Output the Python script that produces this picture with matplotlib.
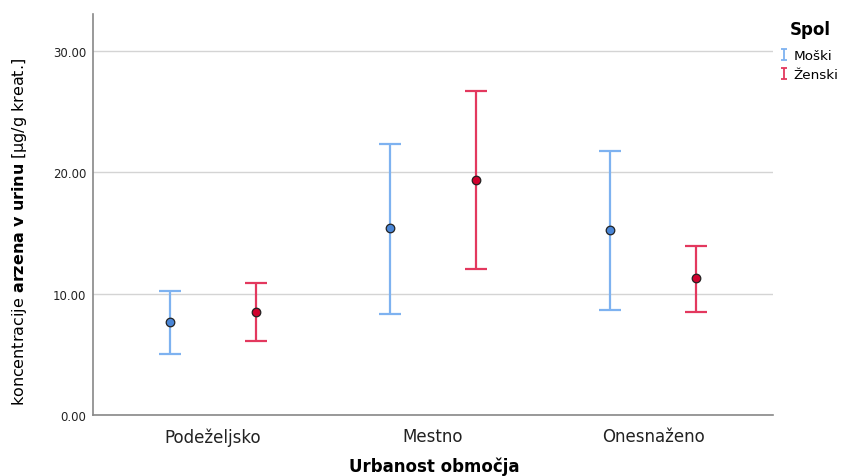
import matplotlib
matplotlib.use("Agg")
import matplotlib.pyplot as plt
from matplotlib.legend_handler import HandlerErrorbar
from matplotlib.container import ErrorbarContainer
import numpy as np

categories = ["Podeželjsko", "Mestno", "Onesnaženo"]
groups = ["Moški", "Ženski"]
male_mean = [7.67, 15.42, 15.25]
male_low = [5.03, 8.33, 8.66]
male_high = [10.2, 22.34, 21.76]
female_mean = [8.49, 19.37, 11.29]
female_low = [6.1, 12.04, 8.49]
female_high = [10.88, 26.7, 13.93]
yticks = [0, 10, 20, 30]

plt.rcParams['font.family'] = ['DejaVu Sans']
plt.rcParams['mathtext.fontset'] = 'dejavusans'

fig = plt.figure(figsize=(8.41, 4.77), dpi=100)
ax = fig.add_axes([93/841, 1-416/477, (773-93)/841, (416-15)/477])

x = np.arange(len(categories))
off = 0.195
series = [
    (male_mean, male_low, male_high, -off, "#7eb2f0", "#4a86d6"),
    (female_mean, female_low, female_high, off, "#e3385e", "#d0022e"),
]
handles = []
for mean, lo, hi, dx, lc, mc in series:
    mean = np.array(mean); lo = np.array(lo); hi = np.array(hi)
    ax.errorbar(x + dx, mean, yerr=[mean - lo, hi - mean], fmt='none',
                ecolor=lc, elinewidth=1.6, capsize=7.9, capthick=1.6, zorder=3)
    ax.scatter(x + dx, mean, s=38, facecolor=mc, edgecolor="#222222",
               linewidth=0.9, zorder=4)
    h = ax.errorbar([np.nan], [np.nan], yerr=[[1], [1]], fmt='none', ecolor=lc,
                    elinewidth=1.3, capsize=2.4, capthick=1.3)
    handles.append(h)

ax.set_xlim(-0.545, 2.545)
ax.set_ylim(0, 33.05)
ax.set_yticks(yticks)
ax.set_yticklabels([f"{v:.2f}" for v in yticks], fontsize=8.5, color="#222222")
ax.set_xticks(x)
ax.set_xticklabels(categories, fontsize=12, color="#222222")
ax.tick_params(axis='y', length=0, pad=5)
ax.tick_params(axis='x', length=0, pad=9)
ax.grid(axis='y', color="#d4d4d4", linewidth=1.0)
ax.set_axisbelow(True)
for s in ["top", "right"]:
    ax.spines[s].set_visible(False)
for s in ["left", "bottom"]:
    ax.spines[s].set_color("#888888")
    ax.spines[s].set_linewidth(1.2)

ax.set_xlabel("Urbanost območja", fontsize=12, fontweight='bold')
ax.xaxis.set_label_coords((434-93)/680, -(467-416)/401)
ax.xaxis.label.set_va('center')
ax.set_ylabel(r"koncentracije $\mathbf{arzena\ v\ urinu}$ [µg/g kreat.]",
              fontsize=11.5)
ax.yaxis.set_label_coords((20-93)/680, (416-232)/401)
ax.yaxis.label.set_va('center')

leg = fig.legend(handles, groups, loc='upper left',
                 bbox_to_anchor=(781/841, 1-21/477), frameon=False,
                 title="Spol", title_fontproperties={'weight': 'bold', 'size': 12},
                 fontsize=9.7, handlelength=0.5, handletextpad=0.45,
                 labelspacing=0.45, borderaxespad=0, borderpad=0,
                 handler_map={ErrorbarContainer: HandlerErrorbar(yerr_size=0.4)})
leg._legend_box.align = "center"
leg._legend_box.sep = 8

fig.savefig("out.png", dpi=100)
